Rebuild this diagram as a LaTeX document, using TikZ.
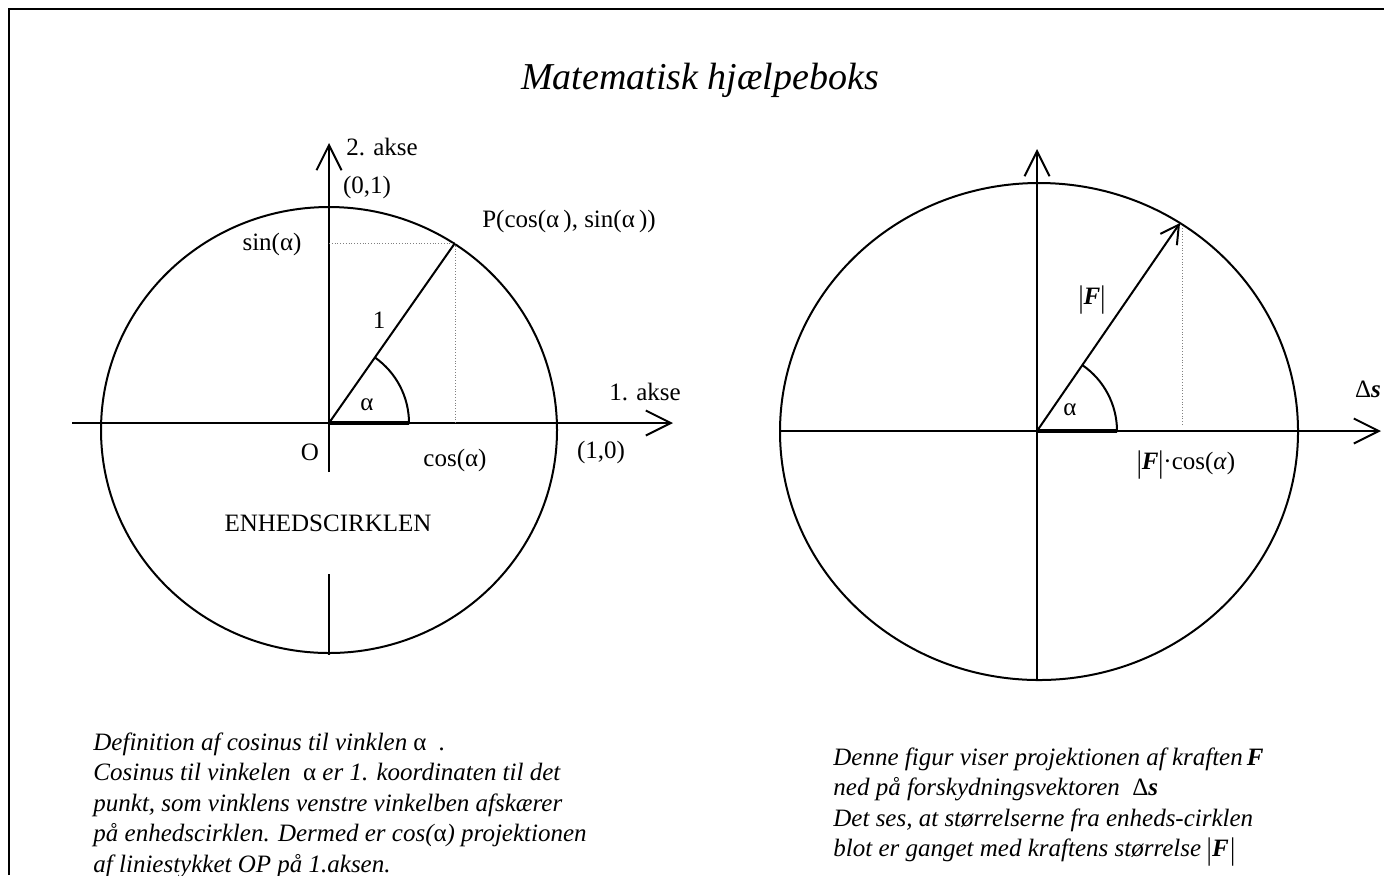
\documentclass[tikz,border=0pt]{standalone}
\usepackage{fontspec}
\setmainfont{Liberation Serif}
\usetikzlibrary{arrows.meta}

\newcommand{\vecF}{\textbf{\textit{F}}}
\newcommand{\ualf}{{\upshape α}}
\newcommand{\tbar}{\raisebox{-0.12em}{\scalebox{1}[1.25]{|}}}

\begin{document}
\begin{tikzpicture}[
    x=0.5pt, y=-0.5pt,
    axis/.style={line width=1pt, -{Straight Barb[length=12.5pt, width=12.5pt]}},
    vec/.style={line width=1pt, -{Straight Barb[length=9pt, width=10pt]}},
    rim/.style={line width=1pt},
    proj/.style={densely dotted, gray, line width=0.4pt},
    lbl/.style={font=\fontsize{12.5}{15}\selectfont, inner sep=0pt},
    note/.style={font=\itshape\fontsize{12.5}{15.3}\selectfont, align=left,
                 inner sep=0pt, anchor=north west}
  ]
  \useasboundingbox (0,0) rectangle (1384,875);

  % frame
  \draw[line width=1.2pt] (9,875) -- (9,9) -- (1384,9);

  \node (title) [lbl, font=\itshape\fontsize{19}{22}\selectfont] at (700,80) {Matematisk hjælpeboks};

  % unit circle
  \coordinate (O)  at (329,423);
  \coordinate (xl) at (72,423);
  \coordinate (xr) at (673,423);
  \coordinate (yt) at (329,143);
  \coordinate (yb) at (329,472);
  \coordinate (st) at (329,574);
  \coordinate (sb) at (329,655);
  \coordinate (P)  at (455,243);
  \coordinate (Px) at (455,423);
  \coordinate (Py) at (329,243);

  \draw[rim] (329,430) ellipse [x radius=228, y radius=223];
  \draw[axis] (xl) -- (xr);
  \draw[axis] (yb) -- (yt);
  \draw[rim] (st) -- (sb);
  \draw[rim] (O) -- (P);
  \draw[proj] (Py) -- (P) -- (Px);
  \draw[rim] (O) -- ++(80,0) arc[start angle=0, end angle=-55, radius=80];
  \draw[line width=1.6pt] (O) -- ++(80,0);

  \node (akse2) [lbl] at (382,147) {2. akse};
  \node (p01)   [lbl] at (367,187) {(0,1)};
  \node (lblP)  [lbl] at (569,221) {P(cos(α\,), sin(α\,))};
  \node (sin)   [lbl] at (272,244) {sin(α)};
  \node (one)   [lbl] at (379,320) {1};
  \node (alf)   [lbl] at (367,405) {α};
  \node (akse1) [lbl] at (645,392) {1. akse};
  \node (lblO)  [lbl] at (310,452) {O};
  \node (cos)   [lbl] at (455,460) {cos(α)};
  \node (p10)   [lbl] at (601,452) {(1,0)};
  \node (enh)   [lbl] at (328,523) {ENHEDSCIRKLEN};

  % force projection
  \coordinate (Q)    at (1037,431);
  \coordinate (sl)   at (780,431);
  \coordinate (sr)   at (1381,431);
  \coordinate (vt)   at (1037,149);
  \coordinate (vb)   at (1037,680);
  \coordinate (Ftip) at (1180,223);
  \coordinate (Fa)   at (1182,228);
  \coordinate (Fb)   at (1182,425);

  \draw[rim] (1039,431.5) ellipse [x radius=259, y radius=248.5];
  \draw[axis] (sl) -- (sr);
  \draw[axis] (vb) -- (vt);
  \draw[vec] (Q) -- (Ftip);
  \draw[proj] (Fa) -- (Fb);
  \draw[rim] (Q) -- ++(80,0) arc[start angle=0, end angle=-55.5, radius=80];
  \draw[line width=1.6pt] (Q) -- ++(80,0);

  \node (alf2)  [lbl] at (1070,410) {α};
  \node (absF)  [lbl] at (1092,300) {\tbar\vecF\tbar};
  \node (Fcos)  [lbl] at (1186,465) {\tbar\vecF\tbar·cos(\textit{α})};
  \node (ds)    [lbl] at (1368,389) {Δ\textbf{\textit{s}}};

  % texts
  \node (defn) [note] at (93,732) {Definition af cosinus til vinklen \ualf\ \ .\\
    Cosinus til vinkelen \ \ualf\ er 1. koordinaten til det\\
    punkt, som vinklens venstre vinkelben afskærer\\
    på enhedscirklen. Dermed er cos(\ualf) projektionen\\
    af liniestykket OP på 1.aksen.};
  \node (proj) [note] at (833,747) {Denne figur viser projektionen af kraften\,\vecF\\
    ned på forskydningsvektoren \ {\upshape Δ}\textbf{s}\\
    Det ses, at størrelserne fra enheds-cirklen\\
    blot er ganget med kraftens størrelse\,\tbar\vecF\tbar};
\end{tikzpicture}
\end{document}
